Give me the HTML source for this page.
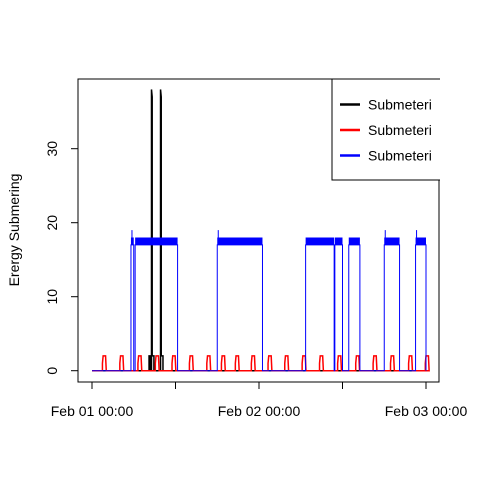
<!DOCTYPE html>
<html><head><meta charset="utf-8"><style>
body{margin:0;background:#fff}
svg{display:block;font-family:"Liberation Sans",Arial,sans-serif}
</style></head><body>
<svg id="chart" width="480" height="480" viewBox="0 0 480 480" xmlns="http://www.w3.org/2000/svg">
<rect x="0" y="0" width="480" height="480" fill="#fff"/>
<g id="marks"></g>
<rect x="78" y="79" width="361" height="303" fill="none" stroke="#000" stroke-width="1"/>
<g id="axes"></g>
<text transform="translate(19,230) rotate(-90)" text-anchor="middle" font-size="14">Erergy Submering</text>
<g>
<rect x="332" y="79" width="120" height="101" fill="#fff" stroke="#000"/>
<line x1="340" y1="104.5" x2="360" y2="104.5" stroke="#000" stroke-width="2.5"/>
<text x="368" y="109.5" font-size="14">Submeteri</text>
<line x1="340" y1="130" x2="360" y2="130" stroke="#f00" stroke-width="2.5"/>
<text x="368" y="135" font-size="14">Submeteri</text>
<line x1="340" y1="155.5" x2="360" y2="155.5" stroke="#00f" stroke-width="2.5"/>
<text x="368" y="160.5" font-size="14">Submeteri</text>
</g>
<rect x="440" y="70" width="40" height="115" fill="#fff"/>
</svg>
<script>
const xTickHours = [0, 12, 24, 36, 48];
const xTickLabels = ["Feb 01 00:00", "", "Feb 02 00:00", "", "Feb 03 00:00"];
const yTicks = [0, 10, 20, 30];
// blue plateaus: start hour, end hour, low, high
const blueStarts = [5.6, 6.2, 18.0, 30.7, 34.9, 36.9, 42.0, 46.5];
const blueEnds = [6.0, 12.3, 24.5, 34.8, 36.0, 38.5, 44.2, 48.0];
const blueLow = [17, 17, 17, 17, 17, 17, 17, 17];
const blueHigh = [19, 18, 19, 18, 18, 18, 19, 19];
// red pulses: hour of pulse start
const redPulses = [1.5, 4.0, 6.6, 9.1, 11.5, 14.0, 16.5, 18.6, 20.6, 22.9, 25.3, 27.7, 30.2, 32.7, 35.3, 37.9, 40.4, 42.9, 45.5, 47.9];
const redHeight = [2, 2, 2, 2, 2, 2, 2, 2, 2, 2, 2, 2, 2, 2, 2, 2, 2, 2, 2, 2];
// black spikes
const blackHours = [8.6, 9.9];
const blackValues = [38, 38];
const blackBaseStart = 8.2, blackBaseEnd = 10.0, blackBaseLevel = 2;

const X = h => 92 + h * (334 / 48);
const Y = v => 370.7 - v * 7.4;
const NS = "http://www.w3.org/2000/svg";
const marks = document.getElementById('marks');
const axes = document.getElementById('axes');
function mk(tag, attrs, parent) {
  const e = document.createElementNS(NS, tag);
  for (const k in attrs) e.setAttribute(k, attrs[k]);
  parent.appendChild(e);
  return e;
}
let bp = `M${X(0)},${Y(0)} L${X(blackBaseStart)},${Y(0)}`;
bp += ` L${X(blackBaseStart)},${Y(blackBaseLevel)} L${X(blackBaseStart+0.2)},${Y(blackBaseLevel)} L${X(blackBaseStart+0.2)},${Y(0)}`;
blackHours.forEach((h, i) => {
  bp += ` L${X(h-0.05)},${Y(0)} L${X(h-0.05)},${Y(blackValues[i])} L${X(h+0.05)},${Y(blackValues[i]-1)} L${X(h+0.05)},${Y(blackBaseLevel)} L${X(h+0.3)},${Y(blackBaseLevel)} L${X(h+0.3)},${Y(0)}`;
});
bp += ` L${X(48)},${Y(0)}`;
const blk = mk('path', {d: bp, fill: 'none', stroke: '#000', 'stroke-width': 1.5}, marks);


let rp = `M${X(0)},${Y(0)}`;
redPulses.forEach((h, i) => {
  const v = redHeight[i];
  rp += ` L${X(h)},${Y(0)} L${X(h)},${Y(v/2)} L${X(h+0.1)},${Y(v)} L${X(h+0.45)},${Y(v)} L${X(h+0.5)},${Y(v/2)} L${X(h+0.55)},${Y(0)}`;
});
rp += ` L${X(48)},${Y(0)}`;
const red = mk('path', {d: rp, fill: 'none', stroke: '#f00', 'stroke-width': 1.5}, marks);


let blp = `M${X(0)},${Y(0)}`;
blueStarts.forEach((s, i) => {
  const e = blueEnds[i];
  blp += ` L${X(s)},${Y(0)} L${X(s)},${Y(blueLow[i])} L${X(e)},${Y(blueLow[i])} L${X(e)},${Y(0)}`;
  const r = mk('rect', {x: X(s), y: Y(blueLow[i] + 1), width: X(e) - X(s), height: Y(blueLow[i]) - Y(blueLow[i] + 1), fill: '#00f'}, marks);
  
  
  if (blueHigh[i] > blueLow[i] + 1) {
    const sp = mk('line', {x1: X(s) + 1, y1: Y(blueHigh[i]), x2: X(s) + 1, y2: Y(blueLow[i]), stroke: '#00f', 'stroke-width': 1}, marks);
    
    
  }
});
blp += ` L${X(48)},${Y(0)}`;
const blue = mk('path', {d: blp, fill: 'none', stroke: '#00f', 'stroke-width': 1}, marks);


xTickHours.forEach((h, i) => {
  const t = mk('line', {x1: X(h), y1: 382, x2: X(h), y2: 389, stroke: '#000'}, axes);
  
  
  if (xTickLabels[i]) {
    const l = mk('text', {x: X(h), y: 416, 'text-anchor': 'middle', 'font-size': 14}, axes);
    l.textContent = xTickLabels[i];
    
    
  }
});
yTicks.forEach(v => {
  const t = mk('line', {x1: 71, y1: Y(v), x2: 78, y2: Y(v), stroke: '#000'}, axes);
  
  
  const l = mk('text', {transform: `translate(57,${Y(v)}) rotate(-90)`, 'text-anchor': 'middle', 'font-size': 14}, axes);
  l.textContent = v;
  
  
});
</script>
</body></html>
